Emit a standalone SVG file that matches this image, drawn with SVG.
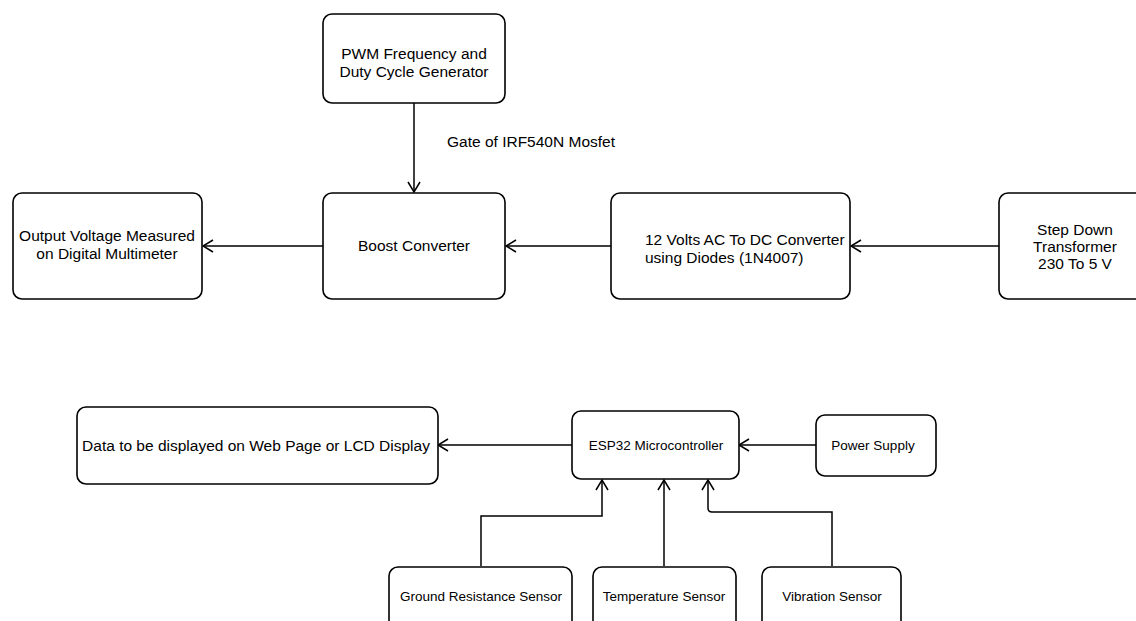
<svg xmlns="http://www.w3.org/2000/svg" width="1136" height="621" viewBox="0 0 1136 621">
<defs>
<style>
.box{fill:#fff;stroke:#000;stroke-width:1.6}
.t{font-family:"Liberation Sans",Arial,Helvetica,sans-serif;font-size:15.5px;fill:#000;text-anchor:middle}
.s{font-size:13.5px}
.l{text-anchor:start}
.c{fill:none;stroke:#000;stroke-width:1.5}
</style>
<marker id="ah" viewBox="0 0 12 14" refX="11" refY="7" markerWidth="12" markerHeight="14" markerUnits="userSpaceOnUse" orient="auto">
<path d="M1,1 L11,7 L1,13" fill="none" stroke="#000" stroke-width="1.5"/>
</marker>
</defs>
<rect width="1136" height="621" fill="#fff"/>
<g id="connectors">
<path class="c" d="M414,103 L414,192" marker-end="url(#ah)"/>
<path class="c" d="M323,246 L203,246" marker-end="url(#ah)"/>
<path class="c" d="M999,246 L851,246" marker-end="url(#ah)"/>
<path class="c" d="M611,246 L506,246" marker-end="url(#ah)"/>
<path class="c" d="M572,445 L438,445" marker-end="url(#ah)"/>
<path class="c" d="M816,445 L739,445" marker-end="url(#ah)"/>
<path class="c" d="M481,566 L481,516 L602,516 L602,480" marker-end="url(#ah)"/>
<path class="c" d="M664,566 L664,480" marker-end="url(#ah)"/>
<path class="c" d="M832,566 L832,512 L712,512 Q708,512 708,508 L708,480" marker-end="url(#ah)"/>
<text class="t l" x="447" y="147">Gate of IRF540N Mosfet</text>
</g>
<g id="pwm">
<rect class="box" x="323" y="14" width="182" height="89" rx="9"/>
<text class="t" x="414" y="59">PWM Frequency and</text>
<text class="t" x="414" y="77">Duty Cycle Generator</text>
</g>
<g id="boost">
<rect class="box" x="323" y="193" width="182" height="106" rx="9"/>
<text class="t" x="414" y="251">Boost Converter</text>
</g>
<g id="output">
<rect class="box" x="13" y="193" width="189" height="106" rx="9"/>
<text class="t" x="107" y="241">Output Voltage Measured</text>
<text class="t" x="107" y="259">on Digital Multimeter</text>
</g>
<g id="rectifier">
<rect class="box" x="611" y="193" width="239" height="106" rx="9"/>
<text class="t l" x="645" y="245">12 Volts AC To DC Converter</text>
<text class="t l" x="645" y="263">using Diodes (1N4007)</text>
</g>
<g id="transformer">
<rect class="box" x="999" y="193" width="152" height="106" rx="9"/>
<text class="t" x="1075" y="235">Step Down</text>
<text class="t" x="1075" y="252">Transformer</text>
<text class="t" x="1075" y="269">230 To 5 V</text>
</g>
<g id="display">
<rect class="box" x="77" y="407" width="361" height="77" rx="9"/>
<text class="t" x="256" y="451">Data to be displayed on Web Page or LCD Display</text>
</g>
<g id="esp32">
<rect class="box" x="572" y="411" width="167" height="68" rx="9"/>
<text class="t s" x="656" y="450">ESP32 Microcontroller</text>
</g>
<g id="power">
<rect class="box" x="816" y="415" width="120" height="61" rx="9"/>
<text class="t s" x="873" y="450">Power Supply</text>
</g>
<g id="ground">
<rect class="box" x="389" y="567" width="183" height="80" rx="9"/>
<text class="t s" x="481" y="601">Ground Resistance Sensor</text>
</g>
<g id="temperature">
<rect class="box" x="593" y="567" width="143" height="80" rx="9"/>
<text class="t s" x="664" y="601">Temperature Sensor</text>
</g>
<g id="vibration">
<rect class="box" x="762" y="567" width="139" height="80" rx="9"/>
<text class="t s" x="832" y="601">Vibration Sensor</text>
</g>
</svg>
